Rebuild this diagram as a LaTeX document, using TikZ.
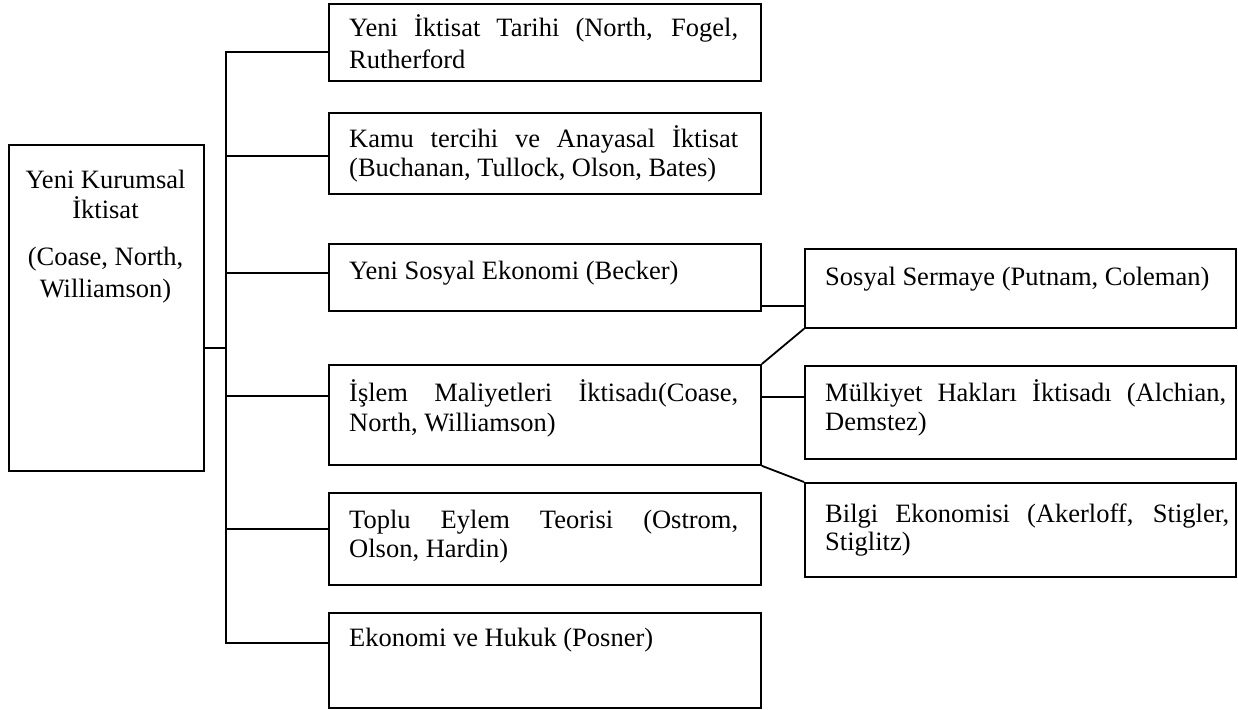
\documentclass[tikz,border=0pt]{standalone}
\usepackage{fontspec}
\setmainfont{Liberation Serif}
\tikzset{
  box/.style={draw, line width=1.8pt, inner sep=0pt, anchor=north west},
  txt/.style={inner sep=0pt, anchor=base west, font=\fontsize{26.5}{30}\selectfont},
  ctxt/.style={txt, anchor=base},
  conn/.style={line width=1.8pt}
}
\begin{document}
\begin{tikzpicture}[x=1pt, y=-1pt]
\useasboundingbox (0,0) rectangle (1238,709);
% boxes
\node[box, minimum width=195pt, minimum height=326pt] (L) at (8,144) {};
\node[box, minimum width=432pt, minimum height=77pt] (B1) at (328,3) {};
\node[box, minimum width=432pt, minimum height=81pt] (B2) at (328,112) {};
\node[box, minimum width=432pt, minimum height=67pt] (B3) at (328,243) {};
\node[box, minimum width=432pt, minimum height=100pt] (B4) at (328,364) {};
\node[box, minimum width=432pt, minimum height=92pt] (B5) at (328,492) {};
\node[box, minimum width=432pt, minimum height=95pt] (B6) at (328,612) {};
\node[box, minimum width=431pt, minimum height=79pt] (R1) at (804,248) {};
\node[box, minimum width=431pt, minimum height=93pt] (R2) at (804,365) {};
\node[box, minimum width=431pt, minimum height=94pt] (R3) at (804,482) {};
% texts
\node[ctxt] (l1) at (105.5,188) {Yeni Kurumsal};
\node[ctxt] (l2) at (105.5,218) {İktisat};
\node[ctxt] (l3) at (105.5,265) {(Coase, North,};
\node[ctxt] (l4) at (105.5,297) {Williamson)};
\node[txt] (b1a) at (349,37) {\makebox[389pt][s]{Yeni İktisat Tarihi (North, Fogel,}};
\node[txt] (b1b) at (349,68) {Rutherford};
\node[txt] (b2a) at (349,147) {\makebox[389pt][s]{Kamu tercihi ve Anayasal İktisat}};
\node[txt] (b2b) at (349,176) {(Buchanan, Tullock, Olson, Bates)};
\node[txt] (b3a) at (349,279) {Yeni Sosyal Ekonomi (Becker)};
\node[txt] (b4a) at (349,401) {\makebox[389pt][s]{İşlem Maliyetleri İktisadı(Coase,}};
\node[txt] (b4b) at (349,431) {North, Williamson)};
\node[txt] (b5a) at (349,528) {\makebox[389pt][s]{Toplu Eylem Teorisi (Ostrom,}};
\node[txt] (b5b) at (349,557) {Olson, Hardin)};
\node[txt] (b6a) at (349,646) {Ekonomi ve Hukuk (Posner)};
\node[txt] (r1a) at (825,285) {Sosyal Sermaye (Putnam, Coleman)};
\node[txt] (r2a) at (825,401) {\makebox[401pt][s]{Mülkiyet Hakları İktisadı (Alchian,}};
\node[txt] (r2b) at (825,430) {Demstez)};
\node[txt] (r3a) at (825,522) {\makebox[404pt][s]{Bilgi Ekonomisi (Akerloff, Stigler,}};
\node[txt] (r3b) at (825,550) {Stiglitz)};
% connector points
\coordinate (s0) at (226,348);
\coordinate (s1) at (226,52);
\coordinate (s2) at (226,156);
\coordinate (s3) at (226,273);
\coordinate (s4) at (226,396);
\coordinate (s5) at (226,529);
\coordinate (s6) at (226,643);
\coordinate (c3) at (782,306);
\coordinate (c4) at (782,397);
% connectors
\draw[conn] (s1 -| B1.west) -- (s1) -- (s6) -- (s6 -| B6.west);
\draw[conn] (s0 -| L.east) -- (s0);
\draw[conn] (s2) -- (s2 -| B2.west);
\draw[conn] (s3) -- (s3 -| B3.west);
\draw[conn] (s4) -- (s4 -| B4.west);
\draw[conn] (s5) -- (s5 -| B5.west);
\draw[conn] (c3 -| B3.east) -- (c3 -| R1.west);
\draw[conn] (R1.south west) -- (B4.north east);
\draw[conn] (c4 -| B4.east) -- (c4 -| R2.west);
\draw[conn] (B4.south east) -- (R3.north west);
\end{tikzpicture}
\end{document}
